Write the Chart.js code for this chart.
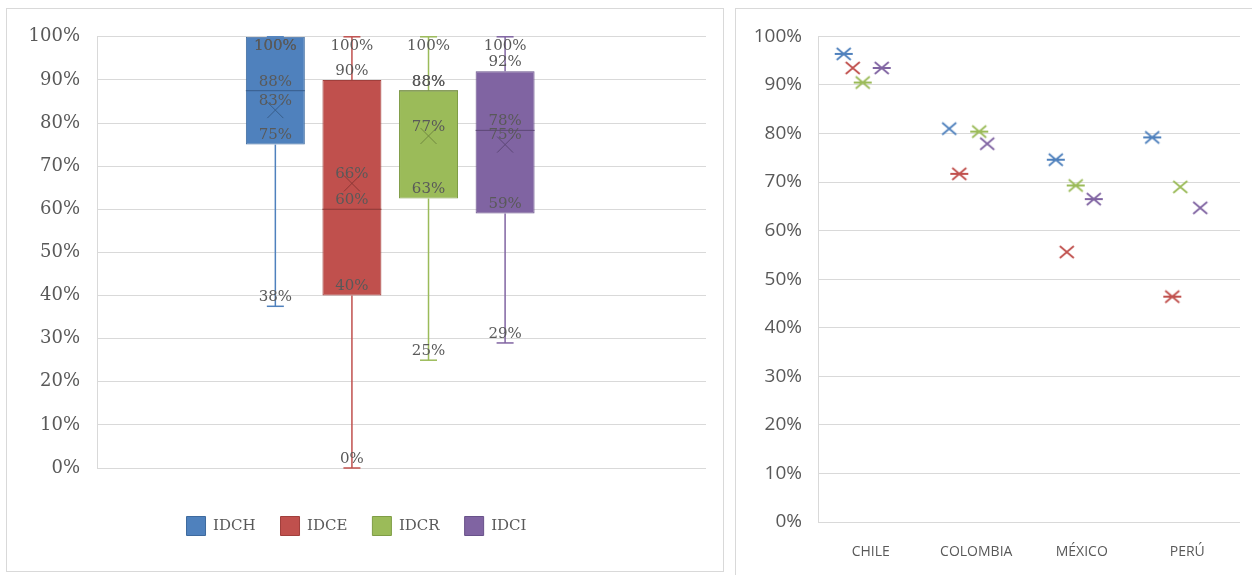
<!DOCTYPE html>
<html><head><meta charset="utf-8">
<script src="https://cdn.jsdelivr.net/npm/chart.js@4"></script>
<style>
html,body{margin:0;padding:0;background:#fff;width:1252px;height:575px;overflow:hidden;}
.panel{position:absolute;border:1px solid #d9d9d9;box-sizing:border-box;background:#fff;}
#p1{left:6px;top:8px;width:718px;height:564px;}
#p2{left:735px;top:8px;width:520px;height:570px;}
canvas{display:block}
</style></head><body>
<div class="panel" id="p1"><canvas id="c1" width="716" height="562"></canvas></div>
<div class="panel" id="p2"><canvas id="c2" width="518" height="568"></canvas></div>
<script>
// ---- data (left: box & whisker summary, %) ----
const seriesNames = ['IDCH', 'IDCE', 'IDCR', 'IDCI'];
const boxMin    = [37.5, 0, 25, 29];
const boxQ1     = [75, 40, 62.5, 59];
const boxMedian = [87.5, 60, 87.5, 78.3];
const boxMean   = [83, 66, 77, 75];
const boxQ3     = [100, 90, 87.5, 92];
const boxMax    = [100, 100, 100, 100];
const yTicksPct = [0, 10, 20, 30, 40, 50, 60, 70, 80, 90, 100];

// ---- data (right: values per country, %) ----
const countries = ['CHILE', 'COLOMBIA', 'MÉXICO', 'PERÚ'];
const valIDCH = [96.4, 81.0, 74.6, 79.2];
const valIDCE = [93.5, 71.7, 55.6, 46.4];
const valIDCR = [90.5, 80.4, 69.3, 69.0];
const valIDCI = [93.5, 77.9, 66.5, 64.7];
// horizontal jitter of each point inside its category (category units)
const jitIDCH = [-0.256, -0.256, -0.246, -0.332];
const jitIDCE = [-0.171, -0.161, -0.142, -0.142];
const jitIDCR = [-0.076, 0.028, -0.057, -0.066];
const jitIDCI = [0.104, 0.104, 0.114, 0.123];
// marker kind per point: 'x' plain cross, 'xh' cross with horizontal bar
const mkIDCH = ['xh', 'x', 'xh', 'xh'];
const mkIDCE = ['x', 'xh', 'x', 'xh'];
const mkIDCR = ['xh', 'xh', 'xh', 'x'];
const mkIDCI = ['xh', 'x', 'xh', 'x'];

// ---- styles ----
const fills = ['#4F81BD', '#C0504D', '#9BBB59', '#8064A2'];
const edges = ['#3E6A9E', '#A13F3C', '#7F9D46', '#68528A'];
const darks = ['#385D8A', '#8C3836', '#71893F', '#5C4776'];
const textGray = '#595959';
const gridGray = '#d9d9d9';

// ---------------- left chart ----------------
const boxPlugin = {
  id: 'boxWhisker',
  afterDatasetsDraw(chart) {
    const ctx = chart.ctx, ys = chart.scales.y, top = chart.chartArea.top;
    const line = (x1, y1, x2, y2) => { ctx.beginPath(); ctx.moveTo(x1, y1); ctx.lineTo(x2, y2); ctx.stroke(); };
    chart.data.datasets.forEach((ds, i) => {
      const bar = chart.getDatasetMeta(i).data[0];
      const cx = bar.x, w = bar.width;
      const p = v => ys.getPixelForValue(v);
      ctx.save();
      ctx.strokeStyle = fills[i];
      ctx.lineWidth = 1.5;
      line(cx, p(boxQ3[i]), cx, p(boxMax[i]));
      line(cx - 8.5, p(boxMax[i]), cx + 8.5, p(boxMax[i]));
      line(cx, p(boxQ1[i]), cx, p(boxMin[i]));
      line(cx - 8.5, p(boxMin[i]), cx + 8.5, p(boxMin[i]));
      ctx.strokeStyle = darks[i];
      ctx.lineWidth = 1;
      line(cx - w / 2, p(boxMedian[i]), cx + w / 2, p(boxMedian[i]));
      const my = p(boxMean[i]);
      line(cx - 8, my - 8, cx + 8, my + 8);
      line(cx + 8, my - 8, cx - 8, my + 8);
      ctx.fillStyle = textGray;
      ctx.font = '15px "DejaVu Serif"';
      ctx.textAlign = 'center';
      ctx.textBaseline = 'middle';
      [boxMax[i], boxQ3[i], boxMedian[i], boxMean[i], boxQ1[i], boxMin[i]].forEach(v => {
        const ly = Math.max(p(v) - 9, top + 9);
        ctx.fillText(Math.round(v) + '%', cx, ly);
      });
      ctx.restore();
    });
  }
};

new Chart(document.getElementById('c1'), {
  type: 'bar',
  data: {
    datasets: seriesNames.map((n, i) => ({
      label: n,
      data: [{ x: 0, y: [boxQ1[i], boxQ3[i]] }],
      backgroundColor: fills[i],
      borderColor: edges[i],
      borderWidth: 1,
      borderSkipped: false,
      barPercentage: 0.77,
      categoryPercentage: 0.503
    }))
  },
  options: {
    responsive: false,
    animation: false,
    layout: { padding: { left: 0, right: 17, top: 27, bottom: 25.5 } },
    scales: {
      x: {
        type: 'linear', min: -0.5, max: 0.58,
        afterBuildTicks: a => { a.ticks = [{ value: 0 }]; },
        grid: { display: false }, border: { display: false }, ticks: { display: false },
        afterFit: a => { a.height = 23.5; }
      },
      y: {
        min: 0, max: 100,
        afterBuildTicks: a => { a.ticks = yTicksPct.map(v => ({ value: v })); },
        ticks: { callback: v => v + '%', color: textGray, font: { family: 'DejaVu Serif', size: 18 }, padding: 17 },
        grid: { color: gridGray, drawTicks: false },
        border: { display: true, color: gridGray },
        afterFit: a => { a.width = 90; }
      }
    },
    plugins: {
      legend: {
        position: 'bottom',
        labels: { boxWidth: 19, boxHeight: 19, padding: 25, color: textGray, font: { family: 'DejaVu Serif', size: 15 } }
      },
      tooltip: { enabled: false }
    }
  },
  plugins: [boxPlugin]
});

// ---------------- right chart ----------------
function makeMarker(color, withBar) {
  const c = document.createElement('canvas');
  c.width = 20; c.height = 16;
  const g = c.getContext('2d');
  g.strokeStyle = color; g.lineWidth = 1.8;
  g.beginPath();
  g.moveTo(3, 2); g.lineTo(17, 14);
  g.moveTo(17, 2); g.lineTo(3, 14);
  if (withBar) { g.moveTo(1, 8); g.lineTo(19, 8); }
  g.stroke();
  return c;
}
const markerSets = fills.map(col => ({ x: makeMarker(col, false), xh: makeMarker(col, true) }));
const allVals = [valIDCH, valIDCE, valIDCR, valIDCI];
const allJit = [jitIDCH, jitIDCE, jitIDCR, jitIDCI];
const allMk = [mkIDCH, mkIDCE, mkIDCR, mkIDCI];

new Chart(document.getElementById('c2'), {
  type: 'scatter',
  data: {
    datasets: seriesNames.map((n, i) => ({
      label: n,
      data: countries.map((c, j) => ({ x: j + 1 + allJit[i][j], y: allVals[i][j] })),
      pointStyle: ctx => markerSets[ctx.datasetIndex][allMk[ctx.datasetIndex][ctx.dataIndex]],
      pointRadius: 8,
      showLine: false,
      borderColor: fills[i],
      backgroundColor: fills[i]
    }))
  },
  options: {
    responsive: false,
    animation: false,
    layout: { padding: { left: 0, right: 14, top: 27, bottom: 0 } },
    scales: {
      x: {
        type: 'linear', min: 0.5, max: 4.5,
        afterBuildTicks: a => { a.ticks = countries.map((c, j) => ({ value: j + 1 })); },
        ticks: { callback: v => countries[Math.round(v) - 1], color: textGray, font: { family: 'Open Sans', size: 14 }, padding: 22, maxRotation: 0 },
        grid: { display: false, drawTicks: false }, border: { display: false },
        afterFit: a => { a.height = 55; }
      },
      y: {
        min: 0, max: 100,
        afterBuildTicks: a => { a.ticks = yTicksPct.map(v => ({ value: v })); },
        ticks: { callback: v => v + '%', color: textGray, font: { family: 'Open Sans', size: 19 }, padding: 16 },
        grid: { color: gridGray, drawTicks: false },
        border: { display: true, color: gridGray },
        afterFit: a => { a.width = 82; }
      }
    },
    plugins: { legend: { display: false }, tooltip: { enabled: false } }
  }
});
</script>
</body></html>
